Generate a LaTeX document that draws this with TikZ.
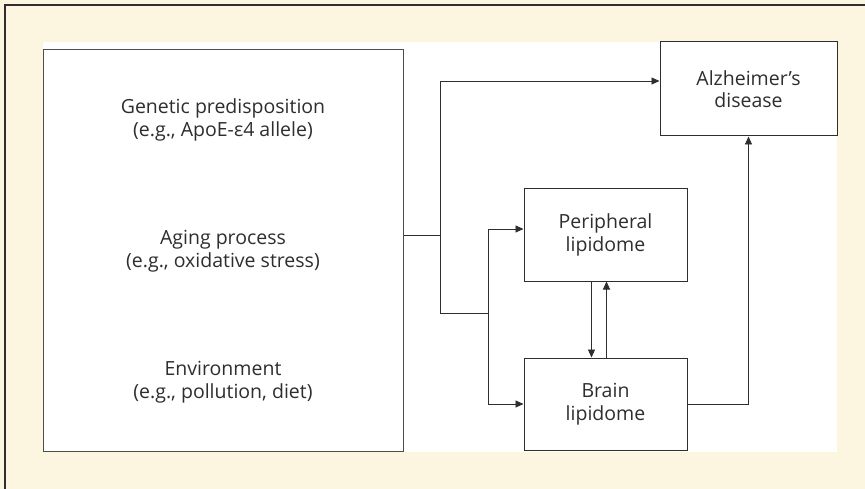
\documentclass[tikz,border=0pt]{standalone}
\usepackage{fontspec}
\setmainfont{Open Sans}
\usetikzlibrary{arrows.meta}
\definecolor{panel}{HTML}{FCF5DF}
\definecolor{ink}{HTML}{2E2E2E}
\tikzset{
  box/.style={draw=ink, line width=1pt, fill=white, inner sep=0pt, align=center, text=ink, font=\fontsize{19.5}{22.5}\selectfont},
  factor/.style={align=center, text=ink, inner sep=0pt, font=\fontsize{19.5}{22.5}\selectfont},
  link/.style={draw=ink, line width=0.9pt},
  arrow/.style={link, -{Triangle[length=8pt,width=7pt]}}
}
\begin{document}
\begin{tikzpicture}[x=1pt, y=-1pt]
    \useasboundingbox (0,0) rectangle (865,489);
    \fill[panel] (0,0) rectangle (865,489);
    \draw[ink, line width=1.5pt] (5,489) -- (5,5) -- (865,5);
    \fill[white] (43,42) rectangle (837,452);

    \node[box, draw=ink!85, minimum width=360pt, minimum height=402pt] (factors) at (223,250.5) {};
    \node[factor] (genetic) at (223,120) {Genetic predisposition\\(e.g., ApoE-ε4 allele)};
    \node[factor] (aging) at (223,251) {Aging process\\(e.g., oxidative stress)};
    \node[factor] (environ) at (223,382) {Environment\\(e.g., pollution, diet)};

    \node[box, minimum width=177pt, minimum height=94pt] (ad) at (748.5,89) {Alzheimer’s\\disease};
    \node[box, minimum width=163pt, minimum height=92pt] (periph) at (605.5,235) {Peripheral\\lipidome};
    \node[box, minimum width=163pt, minimum height=92pt] (brain) at (605.5,404) {Brain\\lipidome};

    \coordinate (split) at (440,235);
    \coordinate (fork) at (488,313);

    \draw[link] (factors.east |- periph) -- (split);
    \draw[arrow] (split) -- (440,81) -- (440,81 -| ad.west);
    \draw[link] (split) -- (440,313) -- (fork);
    \draw[arrow] (fork) |- ([yshift=6pt]periph.west);
    \draw[arrow] (fork) |- (brain.west);

    \draw[arrow] ([xshift=-14pt]periph.south) -- ([xshift=-14pt]brain.north);
    \draw[arrow] ([xshift=1pt]brain.north) -- ([xshift=1pt]periph.south);
    \draw[arrow] (brain.east) -| (ad.south);
\end{tikzpicture}
\end{document}
